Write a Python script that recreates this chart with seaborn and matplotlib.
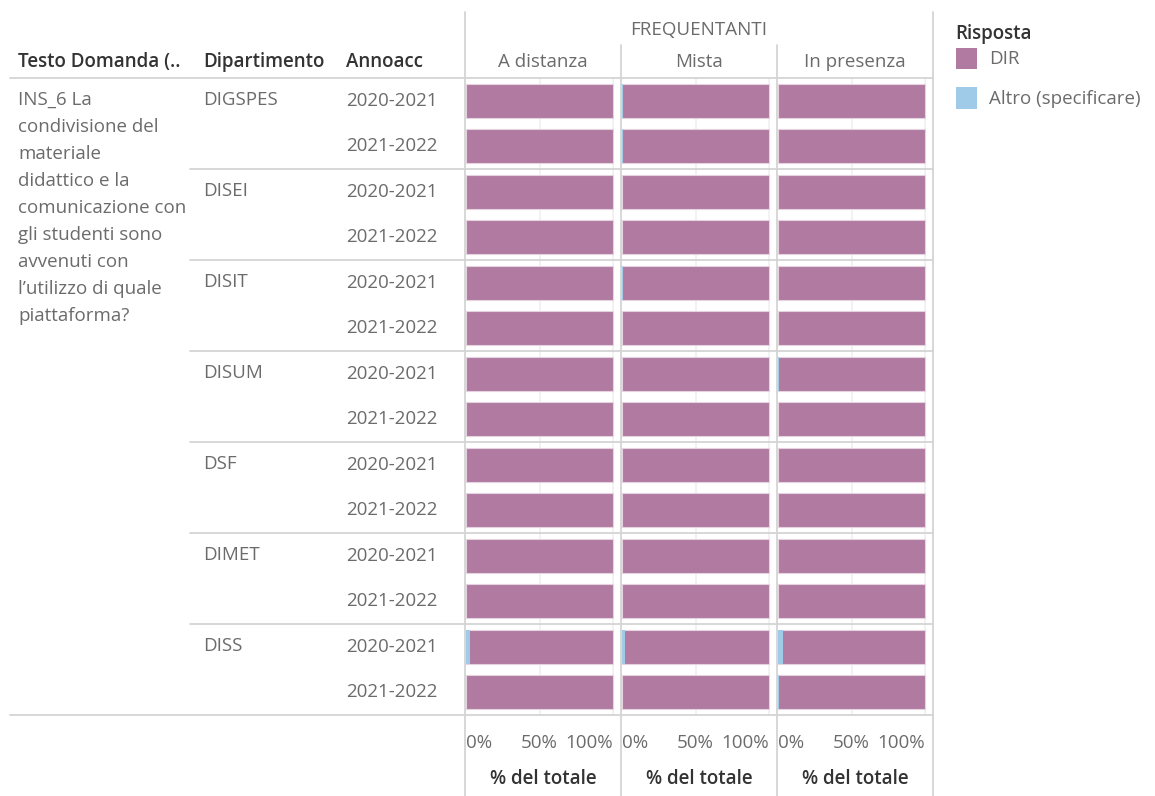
import numpy as np
import pandas as pd
import seaborn as sns
import matplotlib.pyplot as plt
from matplotlib.lines import Line2D
from matplotlib.patches import Patch

# ---------------- data ----------------
departments = ["DIGSPES", "DISEI", "DISIT", "DISUM", "DSF", "DIMET", "DISS"]
years = ["2020-2021", "2021-2022"]
modes = ["A distanza", "Mista", "In presenza"]
responses = ["DIR", "Altro (specificare)"]

# % "Altro (specificare)" per row (dept x year), per modality
altro_a_distanza = [0.0, 0.0, 0.0, 0.0, 0.0, 0.0, 0.0, 0.0, 0.0, 0.0, 0.0, 0.0, 2.5, 0.0]
altro_mista = [0.8, 0.6, 0.0, 0.0, 0.8, 0.0, 0.0, 0.0, 0.0, 0.0, 0.0, 0.0, 2.0, 0.0]
altro_in_presenza = [0.0, 0.0, 0.0, 0.0, 0.0, 0.0, 0.7, 0.0, 0.0, 0.0, 0.0, 0.0, 3.2, 0.6]
# % "DIR"
dir_a_distanza = [100 - v for v in altro_a_distanza]
dir_mista = [100 - v for v in altro_mista]
dir_in_presenza = [100 - v for v in altro_in_presenza]

question = ("INS_6 La\ncondivisione del\nmateriale\ndidattico e la\ncomunicazione con\n"
            "gli studenti sono\navvenuti con\nl\u2019utilizzo di quale\npiattaforma?")
x_ticks = [0, 0.5, 1.0]
x_tick_labels = ["0%", "50%", "100%"]

DIR_COLOR = "#B07AA1"
ALT_COLOR = "#A0CBE8"
LINE_COLOR = "#d4d4d4"
GRAY_TXT = "#6b6b6b"
DARK_TXT = "#333333"

# ---------------- figure ----------------
sns.set_theme(style="white")
plt.rcParams['font.family'] = ['Open Sans', 'DejaVu Sans']

W, H = 1155, 796
fig = plt.figure(figsize=(W / 100, H / 100), dpi=100)


def fx(px):
    return px / W


def fy(py):
    return 1 - py / H


top, bottom = 78, 715
panel_lefts = [465, 621, 777]
panel_w = 156
FS = 13.5

rows = [f"{d}|{y}" for d in departments for y in years]
altro_all = {"A distanza": altro_a_distanza, "Mista": altro_mista, "In presenza": altro_in_presenza}
dir_all = {"A distanza": dir_a_distanza, "Mista": dir_mista, "In presenza": dir_in_presenza}

for i, mode in enumerate(modes):
    ax = fig.add_axes([fx(panel_lefts[i]), fy(bottom), panel_w / W, (bottom - top) / H])
    df = pd.DataFrame({
        "row": rows,
        "altro": np.array(altro_all[mode]) / 100,
        "dir": np.array(dir_all[mode]) / 100,
    })
    df["total"] = df["altro"] + df["dir"]
    for x in [0.5, 1.0]:
        ax.axvline(x, color="#f0f0f0", lw=1.2, zorder=0)
    # stacked: DIR spans from altro to total; draw total in DIR colour, then altro on top
    sns.barplot(data=df, y="row", x="total", orient="h", color=DIR_COLOR, saturation=1,
                width=0.75, edgecolor="#e6d3e0", linewidth=0.8, ax=ax, zorder=2)
    sns.barplot(data=df, y="row", x="altro", orient="h", color=ALT_COLOR, saturation=1,
                width=0.75, linewidth=0, ax=ax, zorder=3)
    ax.set_xlim(-1 / 147, 155 / 147)
    ax.set_ylim(len(rows) - 0.5, -0.5)
    for s in ax.spines.values():
        s.set_visible(False)
    ax.set_yticks([])
    ax.set_ylabel("")
    ax.set_xlabel("")
    ax.set_xticks(x_ticks)
    ax.set_xticklabels(x_tick_labels)
    ax.tick_params(axis="x", length=0, pad=14, labelsize=FS, labelcolor=GRAY_TXT)
    for lab, ha in zip(ax.get_xticklabels(), ["left", "center", "right"]):
        lab.set_ha(ha)
    ax.patch.set_alpha(0)
    # panel header and axis title
    cx = panel_lefts[i] + panel_w / 2
    fig.text(fx(cx), fy(62), mode, ha="center", va="center", fontsize=FS, color=GRAY_TXT)
    fig.text(fx(cx), fy(779), "% del totale", ha="center", va="center", fontsize=FS,
             color=DARK_TXT, fontweight="semibold")

fig.text(fx(699), fy(30), "FREQUENTANTI", ha="center", va="center", fontsize=FS, color=GRAY_TXT)

# column headers
fig.text(fx(18), fy(62), "Testo Domanda (..", ha="left", va="center", fontsize=FS,
         color=DARK_TXT, fontweight="semibold")
fig.text(fx(203), fy(62), "Dipartimento", ha="left", va="center", fontsize=FS,
         color=DARK_TXT, fontweight="semibold")
fig.text(fx(346), fy(62), "Annoacc", ha="left", va="center", fontsize=FS,
         color=DARK_TXT, fontweight="semibold")

# row headers
row_h = (bottom - top) / len(rows)
fig.text(fx(18), fy(91), question, ha="left", va="top", fontsize=FS, color=GRAY_TXT,
         linespacing=1.645)
for di, d in enumerate(departments):
    yc = top + (2 * di + 0.5) * row_h
    fig.text(fx(203), fy(yc - 1), d, ha="left", va="center", fontsize=FS, color=GRAY_TXT)
    for yi, yr in enumerate(years):
        yy = top + (2 * di + yi + 0.5) * row_h
        fig.text(fx(346), fy(yy), yr, ha="left", va="center", fontsize=FS, color=GRAY_TXT)

# table rules
def hline(y, x0, x1):
    fig.add_artist(Line2D([fx(x0), fx(x1)], [fy(y), fy(y)], color=LINE_COLOR, lw=1.3))


def vline(x, y0, y1):
    fig.add_artist(Line2D([fx(x), fx(x)], [fy(y0), fy(y1)], color=LINE_COLOR, lw=1.3))


hline(top, 10, 933)
hline(bottom, 10, 933)
for di in range(1, len(departments)):
    hline(top + 2 * di * row_h, 190, 933)
vline(465, 12, 796)
vline(621, 45, 796)
vline(777, 45, 796)
vline(933, 12, 796)

# legend
handles = [Patch(facecolor=DIR_COLOR, edgecolor="none"), Patch(facecolor=ALT_COLOR, edgecolor="none")]
leg = fig.legend(handles, responses, title="Risposta", loc="upper left",
                 bbox_to_anchor=(fx(948), fy(16)), frameon=False, fontsize=FS,
                 title_fontsize=FS, handlelength=1.15, handleheight=1.35, handletextpad=0.65,
                 labelspacing=1.0, borderaxespad=0)
leg._legend_box.align = "left"
leg._legend_box.sep = 3
leg.get_title().set_fontweight("semibold")
leg.get_title().set_color(DARK_TXT)
for t in leg.get_texts():
    t.set_color(GRAY_TXT)

fig.savefig("out.png", dpi=100, facecolor="white")
